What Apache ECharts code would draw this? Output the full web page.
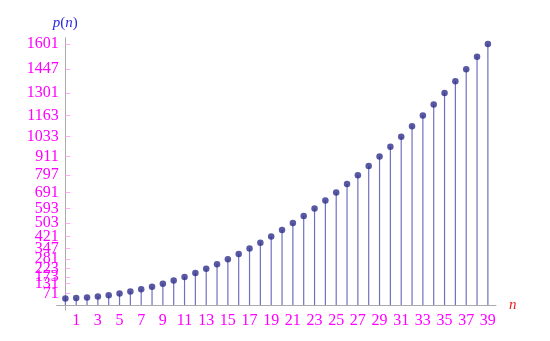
<!DOCTYPE html>
<html>
<head>
<meta charset="utf-8">
<script src="https://cdn.jsdelivr.net/npm/echarts@6/dist/echarts.min.js"></script>
<style>html,body{margin:0;padding:0;background:#fff}#c{width:550px;height:341px}</style>
</head>
<body>
<div id="c"></div>
<script>
var nValues = [0,1,2,3,4,5,6,7,8,9,10,11,12,13,14,15,16,17,18,19,20,21,22,23,24,25,26,27,28,29,30,31,32,33,34,35,36,37,38,39];
var pValues = [41,43,47,53,61,71,83,97,113,131,151,173,197,223,251,281,313,347,383,421,461,503,547,593,641,691,743,797,853,911,971,1033,1097,1163,1231,1301,1373,1447,1523,1601];
var xTicks = [1,3,5,7,9,11,13,15,17,19,21,23,25,27,29,31,33,35,37,39];
var yTicks = [71,97,131,173,223,281,347,421,503,593,691,797,911,1033,1163,1301,1447,1601];

var pts = nValues.map(function(n,i){return [n,pValues[i]];});
var chart = echarts.init(document.getElementById('c'), null, {renderer:'canvas'});
var serif = '"Liberation Serif","DejaVu Serif",serif';
chart.setOption({
  animation:false,
  grid:{left:56.7,right:54,top:37.7,bottom:31,containLabel:false},
  xAxis:{
    type:'value', min:-0.8, max:39.75,
    name:'n', nameLocation:'end', nameGap:13,
    nameTextStyle:{color:'#ee2020',fontFamily:serif,fontStyle:'italic',fontSize:15,verticalAlign:'middle',padding:[4,0,0,0]},
    axisLine:{onZero:true,lineStyle:{color:'#aaaaaa',width:1}},
    axisTick:{show:false},
    splitLine:{show:false},
    axisLabel:{customValues:xTicks,color:'#ff00ff',fontFamily:serif,fontSize:16,margin:3,hideOverlap:false,
      showMinLabel:true,showMaxLabel:true,
      formatter:function(v){return String(v);}}
  },
  yAxis:{
    type:'value', min:-30, max:1640,
    name:'{i|p}({i|n})', nameLocation:'end', nameGap:7,
    nameTextStyle:{color:'#2a2ae0',fontFamily:serif,fontSize:15,align:'center',
      rich:{i:{fontStyle:'italic',color:'#2a2ae0',fontFamily:serif,fontSize:15}}},
    axisLine:{onZero:true,lineStyle:{color:'#aaaaaa',width:1}},
    axisTick:{show:true,inside:true,length:5,customValues:yTicks,lineStyle:{color:'#ffaaff'}},
    splitLine:{show:false},
    axisLabel:{customValues:yTicks,color:'#ff00ff',fontFamily:serif,fontSize:16,margin:-2,hideOverlap:false,
      showMinLabel:true,showMaxLabel:true,
      formatter:function(v){return String(v);}}
  },
  series:[
    {type:'custom', data:pts, renderItem:function(params,api){
      var a=api.coord([api.value(0),0]), b=api.coord([api.value(0),api.value(1)]);
      return {type:'line',shape:{x1:a[0],y1:a[1],x2:b[0],y2:b[1]},style:{stroke:'#7070c0',lineWidth:1.2}};
    }, z:1},
    {type:'scatter', data:pts, symbolSize:6.5, itemStyle:{color:'#2e2e8c'}, z:2}
  ]
});
</script>
</body>
</html>
